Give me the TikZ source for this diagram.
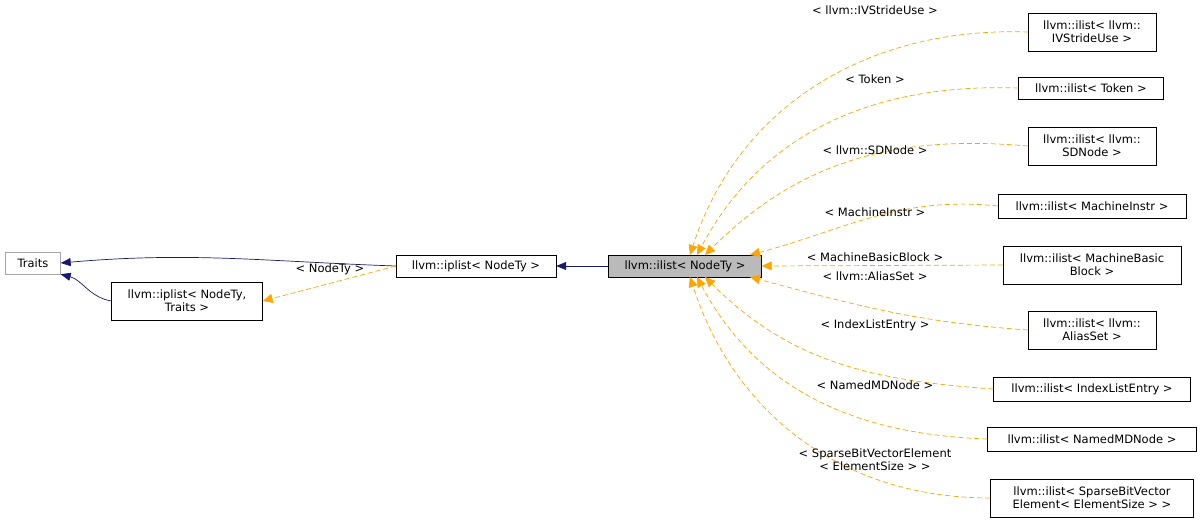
\documentclass[tikz,border=0pt]{standalone}
\usepackage{fontspec}
\setmainfont{DejaVu Sans}
\usetikzlibrary{arrows.meta}
\definecolor{edgeor}{RGB}{255,165,0}
\definecolor{navyc}{RGB}{25,25,112}
\begin{document}
\begin{tikzpicture}[x=1pt,y=-1pt,font=\fontsize{11.5}{13}\selectfont,
  box/.style={draw=black,fill=white,inner sep=0pt,align=center,minimum height=22pt},
  box2/.style={box,minimum height=38pt},
  inh/.style={color=navyc,line width=0.7pt,-{Triangle[length=10pt,width=8pt]}},
  tpl/.style={color=edgeor,dash pattern=on 5pt off 3pt,line width=0.7pt,-{Triangle[length=10pt,width=9pt]}},
  lbl/.style={inner sep=0pt,align=center,text=black}]
\useasboundingbox (0,0) rectangle (1203,524);
\node[box,draw=black!35,minimum width=55pt] (traits) at (33,263) {Traits};
\node[box2,minimum width=151pt] (ipnt) at (187,301) {llvm::iplist< NodeTy,\\Traits >};
\node[box,minimum width=160pt] (ip) at (476,266) {llvm::iplist< NodeTy >};
\node[box,fill=black!27,minimum width=153pt] (il) at (685,266) {llvm::ilist< NodeTy >};
\node[box2,minimum width=128pt] (r1) at (1092,32) {llvm::ilist< llvm::\\IVStrideUse >};
\node[box,minimum width=145pt] (r2) at (1091,88) {llvm::ilist< Token >};
\node[box2,minimum width=128pt] (r3) at (1092,146) {llvm::ilist< llvm::\\SDNode >};
\node[box,minimum width=188pt,minimum height=24pt] (r4) at (1092,206) {llvm::ilist< MachineInstr >};
\node[box2,minimum width=178pt] (r5) at (1092,265) {llvm::ilist< MachineBasic\\Block >};
\node[box2,minimum width=128pt] (r6) at (1092,330) {llvm::ilist< llvm::\\AliasSet >};
\node[box,minimum width=197pt,minimum height=24pt] (r7) at (1092,389) {llvm::ilist< IndexListEntry >};
\node[box,minimum width=209pt,minimum height=24pt] (r8) at (1092,439) {llvm::ilist< NamedMDNode >};
\node[box2,minimum width=203pt] (r9) at (1092,498) {llvm::ilist< SparseBitVector\\Element< ElementSize > >};
\draw[inh] (il.west) -- (ip.east);
\draw[inh] (ip.west) to[out=178,in=5] (traits.east);
\draw[inh] (ipnt.west) to[out=170,in=-15] (traits.south east);
\draw[tpl] (ip.west) -- (ipnt.east);
\draw[tpl] (r1.west) to[out=178,in=72] (690,255);
\draw[tpl] (r2.west) to[out=178,in=62] (697,255);
\draw[tpl] (r3.west) to[out=175,in=45] (705,255);
\draw[tpl] (r4.west) to[out=174,in=15] (750,255);
\draw[tpl] (r5.west) -- (il.east);
\draw[tpl] (r6.west) to[out=176,in=-15] (750,277);
\draw[tpl] (r7.west) to[out=176,in=-45] (705,277);
\draw[tpl] (r8.west) to[out=178,in=-62] (697,277);
\draw[tpl] (r9.west) to[out=180,in=-72] (690,277);
\node[lbl] (l0) at (330,269) {< NodeTy >};
\node[lbl] (l1) at (875,10) {< llvm::IVStrideUse >};
\node[lbl] (l2) at (875,79) {< Token >};
\node[lbl] (l3) at (875,150) {< llvm::SDNode >};
\node[lbl] (l4) at (875,212) {< MachineInstr >};
\node[lbl] (l5) at (875,257) {< MachineBasicBlock >};
\node[lbl] (l6) at (875,276) {< llvm::AliasSet >};
\node[lbl] (l7) at (875,325) {< IndexListEntry >};
\node[lbl] (l8) at (875,385) {< NamedMDNode >};
\node[lbl] (l9) at (875,460) {< SparseBitVectorElement\\< ElementSize > >};
\end{tikzpicture}
\end{document}
